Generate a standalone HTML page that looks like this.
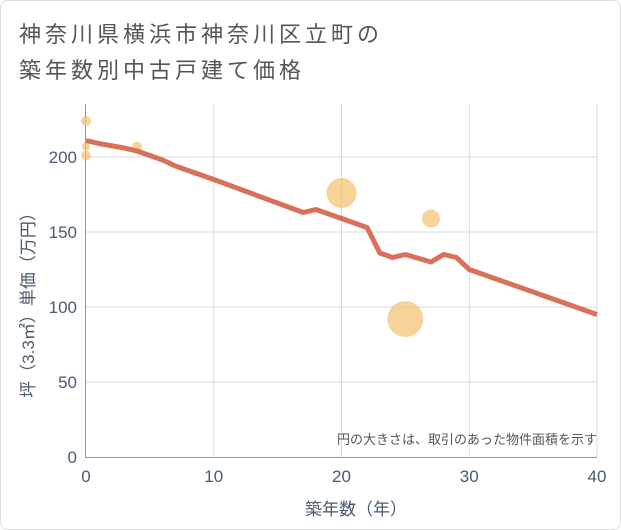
<!DOCTYPE html>
<html><head><meta charset="utf-8"><style>
body{margin:0;background:#fff;font-family:"Liberation Sans","Noto Sans CJK JP",sans-serif}
#wrap{position:relative;width:619px;height:528px;border:1px solid #ddd;border-radius:8px;overflow:hidden}
</style></head><body>
<div id="wrap">
<svg id="c" width="621" height="530"></svg>
</div>
<script>
const lineYears=[0,1,3,4,6,7,10,17,18,20,22,23,24,25,27,28,29,30,40];
const lineValues=[211,209,206,204,198,194,185,163,165,159,153,136,133,135,130,135,133,125,95];
const bubbleYears=[0,0,0,4,20,25,27];
const bubbleValues=[224,207,201,207,176,92,159];
const bubbleSizes=[5,4,5,5,15,18,9];
const xTicks=[0,10,20,30,40];
const yTicks=[0,50,100,150,200];
const NS="http://www.w3.org/2000/svg";
const svg=document.getElementById('c');
const X=v=>85+v*12.775, Y=v=>456-v*1.5;
function mk(t,a,p){const e=document.createElementNS(NS,t);for(const k in a)e.setAttribute(k,a[k]);(p||svg).appendChild(e);return e;}
function tx(x,y,s,a,p){const e=mk('text',Object.assign({x,y},a),p);e.textContent=s;return e;}
let t=tx(18,41,'神奈川県横浜市神奈川区立町の',{'font-size':22,fill:'#555','letter-spacing':4});


t=tx(18,77,'築年数別中古戸建て価格',{'font-size':22,fill:'#555','letter-spacing':4});


for(const v of xTicks){
 if(v>0){const l=mk('line',{x1:X(v),x2:X(v),y1:103,y2:456,stroke:'#cfdbea'});}
 const e=tx(X(v),481,v,{'font-size':17,fill:'#4a5a70','text-anchor':'middle'});
 
 
}
for(const v of yTicks){
 if(v>0){const l=mk('line',{x1:85,x2:596,y1:Y(v),y2:Y(v),stroke:'#cfdbea'});}
 const e=tx(76,Y(v)+6,v,{'font-size':17,fill:'#4a5a70','text-anchor':'end'});
 
 
}
let a=mk('line',{x1:84.5,x2:84.5,y1:103,y2:456,stroke:'#8a96a8'});

a=mk('line',{x1:84,x2:596,y1:456.5,y2:456.5,stroke:'#8a96a8'});

bubbleYears.forEach((yr,i)=>{
 const c=mk('circle',{cx:X(yr),cy:Y(bubbleValues[i]),r:bubbleSizes[i],fill:'#f3c16e','fill-opacity':0.7});
 
 
});
const pl=mk('polyline',{points:lineYears.map((y,i)=>X(y)+','+Y(lineValues[i])).join(' '),fill:'none',stroke:'#d9705a','stroke-width':5,'stroke-linejoin':'round'});


t=tx(596,443,'円の大きさは、取引のあった物件面積を示す',{'font-size':13,fill:'#555','text-anchor':'end'});


t=tx(355,514,'築年数（年）',{'font-size':17,fill:'#4a5a70','text-anchor':'middle'});


t=tx(0,0,'坪（3.3㎡）単価（万円）',{'font-size':17,fill:'#4a5a70','text-anchor':'middle',transform:'translate(33,300) rotate(-90)'});


</script>
</body></html>
